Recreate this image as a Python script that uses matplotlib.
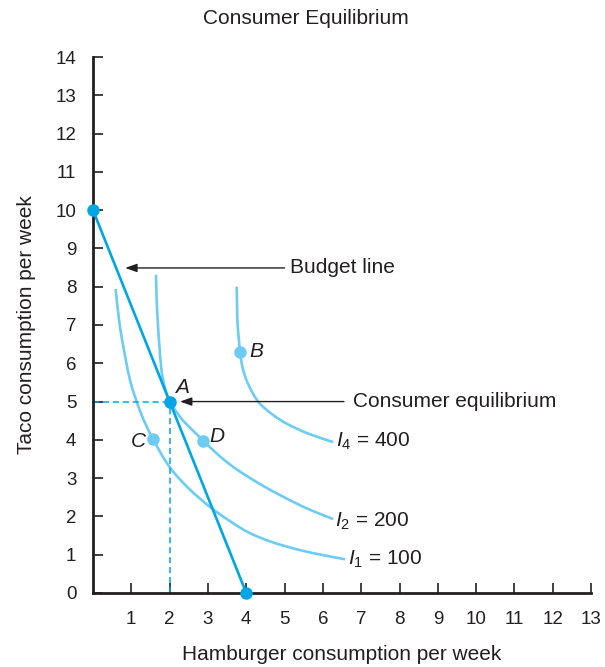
import matplotlib
matplotlib.use("Agg")
import matplotlib.pyplot as plt
from matplotlib.path import Path
from matplotlib.patches import PathPatch

# -------------------
# Data
# -------------------
budget_x = [0, 2, 4]
budget_y = [10, 5, 0]

# indifference curves, points
i1_x = [0.59, 0.66, 0.75, 0.97, 1.25, 1.56, 2.0, 2.5, 3.05, 3.6, 4.1, 4.7, 5.4, 6.0, 6.58]
i1_y = [7.94, 7.3, 6.67, 5.55, 4.7, 4.03, 3.29, 2.73, 2.25, 1.86, 1.56, 1.32, 1.12, 0.99, 0.88]

i2_x = [1.645, 1.66, 1.69, 1.73, 1.79, 1.88, 2.0, 2.2, 2.4, 2.88, 3.3, 3.75, 4.35, 4.97, 5.6, 6.27]
i2_y = [8.31, 7.7, 7.1, 6.5, 5.8, 5.35, 5.0, 4.7, 4.45, 3.98, 3.58, 3.23, 2.85, 2.51, 2.2, 1.93]

i4_x = [3.75, 3.76, 3.77, 3.80, 3.84, 3.9, 4.01, 4.17, 4.36, 4.7, 5.06, 5.6, 6.27]
i4_y = [8.0, 7.5, 7.1, 6.7, 6.3, 5.9, 5.55, 5.22, 4.94, 4.65, 4.42, 4.17, 3.94]

curve_labels = [r"$\mathit{I}_1$ = 100", r"$\mathit{I}_2$ = 200", r"$\mathit{I}_4$ = 400"]

# named points
pt_names = ["A", "B", "C", "D"]
pt_x = [2.0, 3.84, 1.56, 2.88]
pt_y = [5.0, 6.3, 4.03, 3.98]

x_ticks = list(range(1, 14))
y_ticks = list(range(0, 15))

# -------------------
# Style
# -------------------
plt.rcParams['font.family'] = ['Liberation Sans', 'DejaVu Sans']
plt.rcParams['mathtext.fontset'] = 'custom'
plt.rcParams['mathtext.rm'] = 'Liberation Sans'
plt.rcParams['mathtext.it'] = 'Liberation Sans:italic'

DARK = '#231f20'
BLUE = '#00a5e6'
LIGHT = '#6cccf4'


def smooth_path(xs, ys):
    # Catmull-Rom through the traced points, drawn as cubic Bezier segments
    pts = list(zip(xs, ys))
    verts = [pts[0]]
    codes = [Path.MOVETO]
    n = len(pts)
    for i in range(n - 1):
        p0 = pts[i - 1] if i > 0 else pts[i]
        p1, p2 = pts[i], pts[i + 1]
        p3 = pts[i + 2] if i + 2 < n else pts[i + 1]
        c1 = (p1[0] + (p2[0] - p0[0]) / 6, p1[1] + (p2[1] - p0[1]) / 6)
        c2 = (p2[0] - (p3[0] - p1[0]) / 6, p2[1] - (p3[1] - p1[1]) / 6)
        verts += [c1, c2, p2]
        codes += [Path.CURVE4] * 3
    return Path(verts, codes)


fig = plt.figure(figsize=(6.05, 6.67), dpi=100)
ax = fig.add_axes([0.1537, 0.111, 0.8233, 0.8035])

# indifference curves
for cx, cy in [(i1_x, i1_y), (i2_x, i2_y), (i4_x, i4_y)]:
    ax.add_patch(PathPatch(smooth_path(cx, cy), fill=False, edgecolor=LIGHT, lw=1.9,
                           capstyle='butt', zorder=2))

# dashed guide lines to A
ax.plot([0, pt_x[0]], [pt_y[0], pt_y[0]], color=BLUE, lw=1.1, ls=(0, (4, 2.5)), zorder=2)
ax.plot([pt_x[0], pt_x[0]], [0, pt_y[0]], color=BLUE, lw=1.1, ls=(0, (4, 2.5)), zorder=2)

# budget line
ax.plot(budget_x, budget_y, color=BLUE, lw=1.9, zorder=3)
ax.plot([budget_x[0], budget_x[-1]], [budget_y[0], budget_y[-1]], 'o', color=BLUE,
        ms=8, clip_on=False, zorder=5)

# points
ax.plot(pt_x[0], pt_y[0], 'o', color=BLUE, ms=8, zorder=5)
ax.plot(pt_x[1:], pt_y[1:], 'o', color=LIGHT, ms=8, zorder=5)

# point letters
ax.text(2.15, 5.12, "A", fontsize=15, style='italic', ha='left', va='bottom', color=DARK)
ax.text(4.08, 6.3, "B", fontsize=15, style='italic', ha='left', va='center', color=DARK)
ax.text(1.38, 3.95, "C", fontsize=15, style='italic', ha='right', va='center', color=DARK)
ax.text(3.05, 4.1, "D", fontsize=15, style='italic', ha='left', va='center', color=DARK)

# curve labels
ax.text(6.65, 0.88, curve_labels[0], fontsize=15, ha='left', va='center', color=DARK)
ax.text(6.32, 1.87, curve_labels[1], fontsize=15, ha='left', va='center', color=DARK)
ax.text(6.35, 3.96, curve_labels[2], fontsize=15, ha='left', va='center', color=DARK)

# arrows
arrow = dict(arrowstyle='-|>,head_length=0.7,head_width=0.25', color=DARK, lw=1.0,
             shrinkA=0, shrinkB=0)
ax.annotate("", xy=(0.84, 8.49), xytext=(5.0, 8.49), arrowprops=arrow)
ax.text(5.15, 8.49, "Budget line", fontsize=15, ha='left', va='center', color=DARK)
ax.annotate("", xy=(2.27, 5.0), xytext=(6.55, 5.0), arrowprops=arrow)
ax.text(6.78, 5.0, "Consumer equilibrium", fontsize=15, ha='left', va='center', color=DARK)

# axes
ax.set_xlim(0, 13)
ax.set_ylim(0, 14)
ax.set_xticks(x_ticks)
ax.set_yticks(y_ticks)
for side in ['top', 'right']:
    ax.spines[side].set_visible(False)
for side in ['left', 'bottom']:
    ax.spines[side].set_linewidth(2.0)
    ax.spines[side].set_color(DARK)
ax.tick_params(axis='x', direction='in', length=7, width=1.2, color=DARK,
               labelsize=13.5, labelcolor=DARK, pad=13)
ax.tick_params(axis='y', direction='in', length=7, width=1.2, color=DARK,
               labelsize=13.5, labelcolor=DARK, pad=12)

ax.set_xlabel("Hamburger consumption per week", fontsize=15, color=DARK, labelpad=12)
ax.set_ylabel("Taco consumption per week", fontsize=15, color=DARK, labelpad=14)
fig.text(0.505, 0.972, "Consumer Equilibrium", fontsize=15, ha='center', va='center', color=DARK)

fig.savefig("out.png", dpi=100)
